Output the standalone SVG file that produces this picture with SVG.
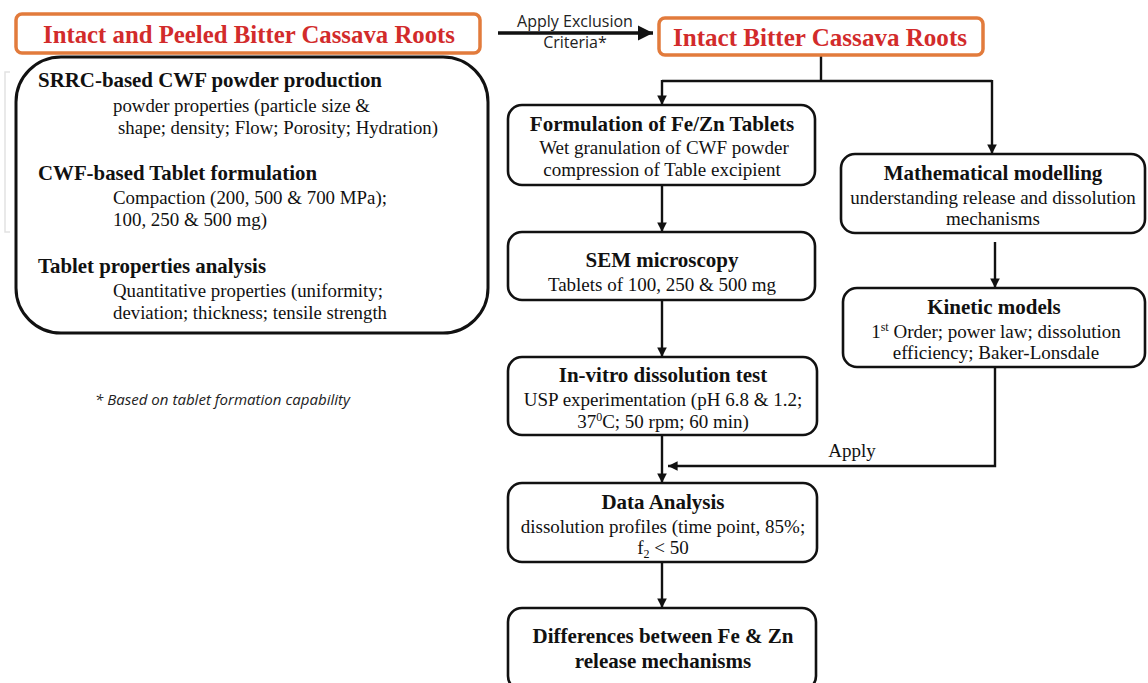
<svg xmlns="http://www.w3.org/2000/svg" width="1148" height="683" viewBox="0 0 1148 683">
<defs>
<style>
.title{font-family:"Liberation Serif",serif;font-weight:bold;font-size:25px;fill:#D22B2B;text-anchor:middle}
.hb{font-family:"Liberation Serif",serif;font-weight:bold;font-size:21px;fill:#111}
.tx{font-family:"Liberation Serif",serif;font-size:19px;fill:#111}
.c{text-anchor:middle}
.orange{fill:#fff;stroke:#E27B3C;stroke-width:3.5}
.box{fill:#fff;stroke:#111;stroke-width:2.6}
.ln{fill:none;stroke:#111;stroke-width:2.4}
.sans{font-family:"Open Sans","Liberation Sans",sans-serif;fill:#222}
</style>
<marker id="ah" viewBox="0 0 10 10" refX="10" refY="5" markerWidth="4" markerHeight="4" orient="auto" markerUnits="strokeWidth">
<path d="M0,0 L10,5 L0,10 Z" fill="#111"/>
</marker>
<marker id="ahb" viewBox="0 0 10 10" refX="10" refY="5" markerWidth="4.2" markerHeight="4.2" orient="auto" markerUnits="strokeWidth">
<path d="M0,0 L10,5 L0,10 Z" fill="#111"/>
</marker>
</defs>
<rect width="1148" height="683" fill="#fff"/>

<path d="M10,72 H5 V232 H10" fill="none" stroke="#e2e2e2" stroke-width="1.5"/>

<g id="connectors">
<line class="ln" x1="498" y1="33" x2="653" y2="33" style="stroke-width:3.6" marker-end="url(#ahb)"/>
<polyline class="ln" points="821,55 821,81"/>
<polyline class="ln" points="662,81 992,81"/>
<line class="ln" x1="662" y1="80" x2="662" y2="105" marker-end="url(#ah)"/>
<line class="ln" x1="992" y1="80" x2="992" y2="154" marker-end="url(#ah)"/>
<line class="ln" x1="662" y1="185" x2="662" y2="232" marker-end="url(#ah)"/>
<line class="ln" x1="662" y1="300" x2="662" y2="357" marker-end="url(#ah)"/>
<line class="ln" x1="662" y1="435" x2="662" y2="483" marker-end="url(#ah)"/>
<line class="ln" x1="662" y1="562" x2="662" y2="608" marker-end="url(#ah)"/>
<line class="ln" x1="995" y1="242" x2="995" y2="288" marker-end="url(#ah)"/>
<polyline class="ln" points="995,367 995,466 668,466" marker-end="url(#ah)"/>
<text class="sans c" x="575" y="27" font-size="16">Apply Exclusion</text>
<text class="sans c" x="575" y="48" font-size="16">Criteria*</text>
<text class="tx c" x="852" y="457">Apply</text>
</g>

<g id="n-intact-peeled">
<rect class="orange" x="16" y="14" width="464" height="39" rx="6"/>
<text class="title" x="249" y="43" textLength="412" lengthAdjust="spacingAndGlyphs">Intact and Peeled Bitter Cassava Roots</text>
</g>

<g id="n-intact">
<rect class="orange" x="659" y="18" width="324" height="37" rx="6"/>
<text class="title" x="820" y="46" textLength="294" lengthAdjust="spacingAndGlyphs">Intact Bitter Cassava Roots</text>
</g>

<g id="n-summary">
<rect class="box" x="16" y="57" width="472" height="276" rx="45" style="stroke-width:3"/>
<text class="hb" x="38" y="87" textLength="344" lengthAdjust="spacingAndGlyphs">SRRC-based CWF powder production</text>
<text class="tx" x="113" y="112" textLength="257" lengthAdjust="spacingAndGlyphs">powder properties (particle size &amp;</text>
<text class="tx" x="118" y="134" textLength="320" lengthAdjust="spacingAndGlyphs">shape; density; Flow; Porosity; Hydration)</text>
<text class="hb" x="38" y="180" textLength="279" lengthAdjust="spacingAndGlyphs">CWF-based Tablet formulation</text>
<text class="tx" x="113" y="204" textLength="274" lengthAdjust="spacingAndGlyphs">Compaction (200, 500 &amp; 700 MPa);</text>
<text class="tx" x="113" y="226" textLength="154" lengthAdjust="spacingAndGlyphs">100, 250 &amp; 500 mg)</text>
<text class="hb" x="38" y="273" textLength="228" lengthAdjust="spacingAndGlyphs">Tablet properties analysis</text>
<text class="tx" x="113" y="297" textLength="270" lengthAdjust="spacingAndGlyphs">Quantitative properties (uniformity;</text>
<text class="tx" x="113" y="319" textLength="274" lengthAdjust="spacingAndGlyphs">deviation; thickness; tensile strength</text>
</g>

<g id="n-footnote">
<text class="sans" x="95" y="405" font-size="14" font-style="italic" textLength="255" lengthAdjust="spacingAndGlyphs">* Based on tablet formation capability</text>
</g>

<g id="n-formulation">
<rect class="box" x="508" y="105" width="307" height="80" rx="14"/>
<text class="hb c" x="662" y="131">Formulation of Fe/Zn Tablets</text>
<text class="tx c" x="664" y="154">Wet granulation of CWF powder</text>
<text class="tx c" x="662" y="176">compression  of Table excipient</text>
</g>

<g id="n-sem">
<rect class="box" x="508" y="232" width="307" height="68" rx="14"/>
<text class="hb c" x="662" y="267">SEM microscopy</text>
<text class="tx c" x="662" y="291">Tablets of 100, 250 &amp; 500 mg</text>
</g>

<g id="n-invitro">
<rect class="box" x="508" y="357" width="309" height="78" rx="14"/>
<text class="hb c" x="663" y="382">In-vitro dissolution test</text>
<text class="tx c" x="663" y="406">USP experimentation (pH 6.8 &amp; 1.2;</text>
<text class="tx c" x="663" y="428">37<tspan font-size="12" dy="-7">0</tspan><tspan dy="7">C; 50 rpm; 60 min)</tspan></text>
</g>

<g id="n-data">
<rect class="box" x="508" y="483" width="309" height="79" rx="14"/>
<text class="hb c" x="663" y="509">Data Analysis</text>
<text class="tx c" x="663" y="533">dissolution profiles (time point, 85%;</text>
<text class="tx c" x="663" y="554">f<tspan font-size="12" dy="4">2</tspan><tspan dy="-4"> &lt; 50</tspan></text>
</g>

<g id="n-differences">
<rect class="box" x="508" y="608" width="308" height="82" rx="14"/>
<text class="hb c" x="663" y="643">Differences between Fe &amp; Zn</text>
<text class="hb c" x="663" y="668">release mechanisms</text>
</g>

<g id="n-math">
<rect class="box" x="841" y="154" width="304" height="79" rx="14"/>
<text class="hb c" x="993" y="180">Mathematical modelling</text>
<text class="tx c" x="993" y="204">understanding release and dissolution</text>
<text class="tx c" x="993" y="225">mechanisms</text>
</g>

<g id="n-kinetic">
<rect class="box" x="843" y="288" width="302" height="79" rx="14"/>
<text class="hb c" x="994" y="314">Kinetic models</text>
<text class="tx c" x="996" y="338">1<tspan font-size="12" dy="-7">st</tspan><tspan dy="7"> Order; power law; dissolution</tspan></text>
<text class="tx c" x="996" y="359">efficiency; Baker-Lonsdale</text>
</g>
</svg>
